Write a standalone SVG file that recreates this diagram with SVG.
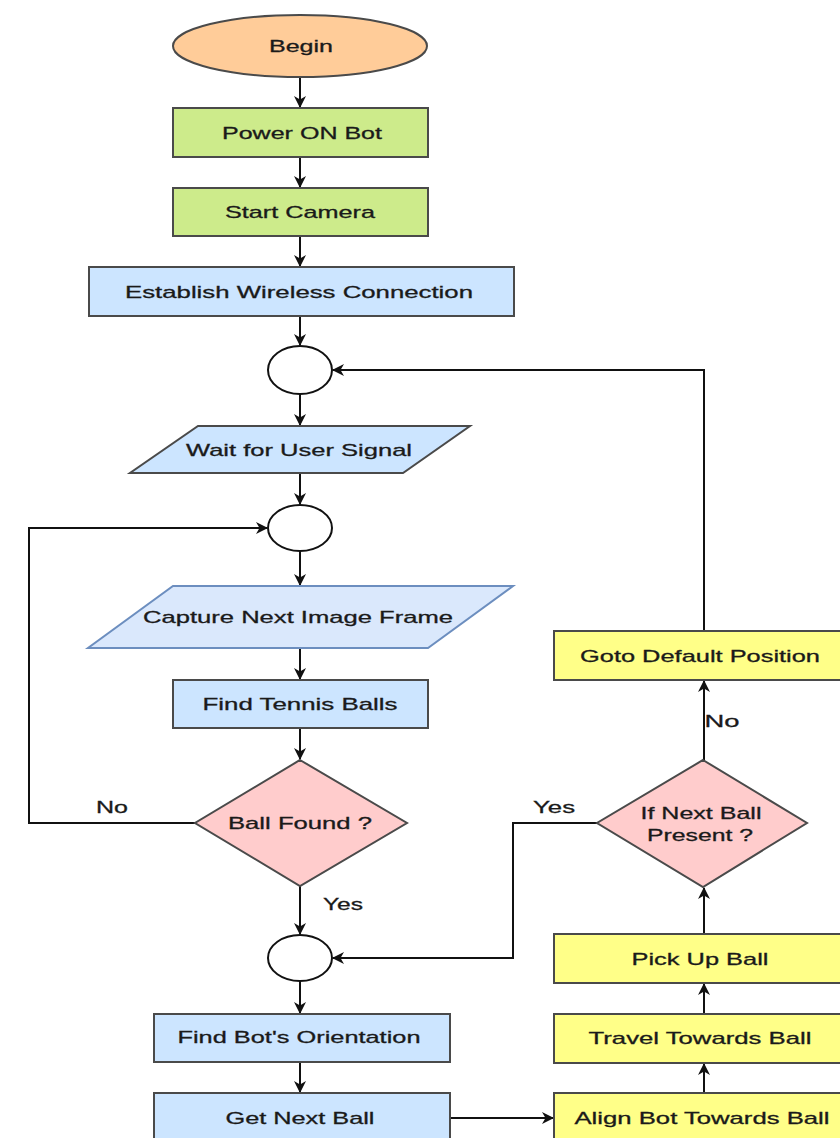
<svg xmlns="http://www.w3.org/2000/svg" width="840" height="1138" viewBox="0 0 840 1138">
<style>
.n{stroke:#4a4a4a;stroke-width:2}
.green{fill:#cdeb8b}
.blue{fill:#cce5ff}
.yellow{fill:#ffff88}
.pink{fill:#ffcccc}
.orange{fill:#ffcc99}
.io{fill:#dae8fc;stroke:#6c8ebf;stroke-width:2}
.circ{fill:#fff;stroke:#111;stroke-width:2}
text{font-family:"Liberation Sans",Arial,sans-serif;font-size:17px;fill:#1a1a1a;stroke:#1a1a1a;stroke-width:0.3;text-anchor:middle}
.c{fill:none;stroke:#111;stroke-width:2;marker-end:url(#arr)}
</style>
<defs>
<marker id="arr" viewBox="0 0 12 12" refX="11" refY="6" markerWidth="12" markerHeight="12" markerUnits="userSpaceOnUse" orient="auto">
<path d="M0,0 L12,6 L0,12 L3.5,6 z" fill="#111"/>
</marker>
</defs>
<rect width="840" height="1138" fill="#fff"/>
<g id="connectors">
<path class="c" d="M300,77 V107"/>
<path class="c" d="M300,157 V187"/>
<path class="c" d="M300,236 V266"/>
<path class="c" d="M300,316 V345"/>
<path class="c" d="M300,394 V425"/>
<path class="c" d="M300,473 V504"/>
<path class="c" d="M300,551 V585"/>
<path class="c" d="M300,648 V679"/>
<path class="c" d="M300,728 V759"/>
<path class="c" d="M195,823 H29 V528 H267"/>
<path class="c" d="M300,886 V934"/>
<path class="c" d="M300,981 V1013"/>
<path class="c" d="M300,1062 V1092"/>
<path class="c" d="M450,1118 H553"/>
<path class="c" d="M704,1093 V1064"/>
<path class="c" d="M704,1014 V984"/>
<path class="c" d="M704,934 V888"/>
<path class="c" d="M704,760 V681"/>
<path class="c" d="M704,631 V370 H333"/>
<path class="c" d="M597,823 H513 V958 H333"/>
<text x="112" y="813" textLength="32" lengthAdjust="spacingAndGlyphs">No</text>
<text x="343" y="910" textLength="40" lengthAdjust="spacingAndGlyphs">Yes</text>
<text x="722" y="727" textLength="35" lengthAdjust="spacingAndGlyphs">No</text>
<text x="554" y="813" textLength="42" lengthAdjust="spacingAndGlyphs">Yes</text>
</g>
<g id="begin">
<ellipse class="n orange" cx="300" cy="46" rx="127" ry="31"/>
<text x="301" y="52" textLength="64" lengthAdjust="spacingAndGlyphs">Begin</text>
</g>
<g id="power">
<rect class="n green" x="173" y="108" width="255" height="49"/>
<text x="302" y="139" textLength="160" lengthAdjust="spacingAndGlyphs">Power ON Bot</text>
</g>
<g id="camera">
<rect class="n green" x="173" y="188" width="255" height="48"/>
<text x="300" y="218" textLength="150" lengthAdjust="spacingAndGlyphs">Start Camera</text>
</g>
<g id="wireless">
<rect class="n blue" x="89" y="267" width="425" height="49"/>
<text x="299" y="298" textLength="348" lengthAdjust="spacingAndGlyphs">Establish Wireless Connection</text>
</g>
<g id="junction1">
<ellipse class="circ" cx="300" cy="370" rx="32" ry="24"/>
</g>
<g id="wait">
<polygon class="n blue" points="198,426 470,426 403,473 130,473"/>
<text x="299" y="456" textLength="226" lengthAdjust="spacingAndGlyphs">Wait for User Signal</text>
</g>
<g id="junction2">
<ellipse class="circ" cx="300" cy="528" rx="32" ry="23"/>
</g>
<g id="capture">
<polygon class="io" points="173,586 513,586 428,648 88,648"/>
<text x="298" y="623" textLength="310" lengthAdjust="spacingAndGlyphs">Capture Next Image Frame</text>
</g>
<g id="find">
<rect class="n blue" x="173" y="680" width="255" height="48"/>
<text x="300" y="710" textLength="195" lengthAdjust="spacingAndGlyphs">Find Tennis Balls</text>
</g>
<g id="found">
<polygon class="n pink" points="300,760 407,823 300,886 195,823"/>
<text x="300" y="829" textLength="144" lengthAdjust="spacingAndGlyphs">Ball Found ?</text>
</g>
<g id="junction3">
<ellipse class="circ" cx="300" cy="958" rx="32" ry="23"/>
</g>
<g id="orientation">
<rect class="n blue" x="154" y="1014" width="296" height="48"/>
<text x="299" y="1043" textLength="243" lengthAdjust="spacingAndGlyphs">Find Bot's Orientation</text>
</g>
<g id="getnext">
<rect class="n blue" x="154" y="1093" width="296" height="60"/>
<text x="300" y="1124" textLength="149" lengthAdjust="spacingAndGlyphs">Get Next Ball</text>
</g>
<g id="align">
<rect class="n yellow" x="554" y="1093" width="300" height="60"/>
<text x="702" y="1124" textLength="255" lengthAdjust="spacingAndGlyphs">Align Bot Towards Ball</text>
</g>
<g id="travel">
<rect class="n yellow" x="554" y="1014" width="300" height="49"/>
<text x="700" y="1044" textLength="223" lengthAdjust="spacingAndGlyphs">Travel Towards Ball</text>
</g>
<g id="pickup">
<rect class="n yellow" x="554" y="934" width="300" height="49"/>
<text x="700" y="965" textLength="137" lengthAdjust="spacingAndGlyphs">Pick Up Ball</text>
</g>
<g id="nextball">
<polygon class="n pink" points="703,760 807,823 703,887 597,823"/>
<text x="701" y="819" textLength="121" lengthAdjust="spacingAndGlyphs">If Next Ball</text>
<text x="700" y="841" textLength="106" lengthAdjust="spacingAndGlyphs">Present ?</text>
</g>
<g id="default">
<rect class="n yellow" x="554" y="631" width="300" height="49"/>
<text x="700" y="662" textLength="240" lengthAdjust="spacingAndGlyphs">Goto Default Position</text>
</g>
</svg>
